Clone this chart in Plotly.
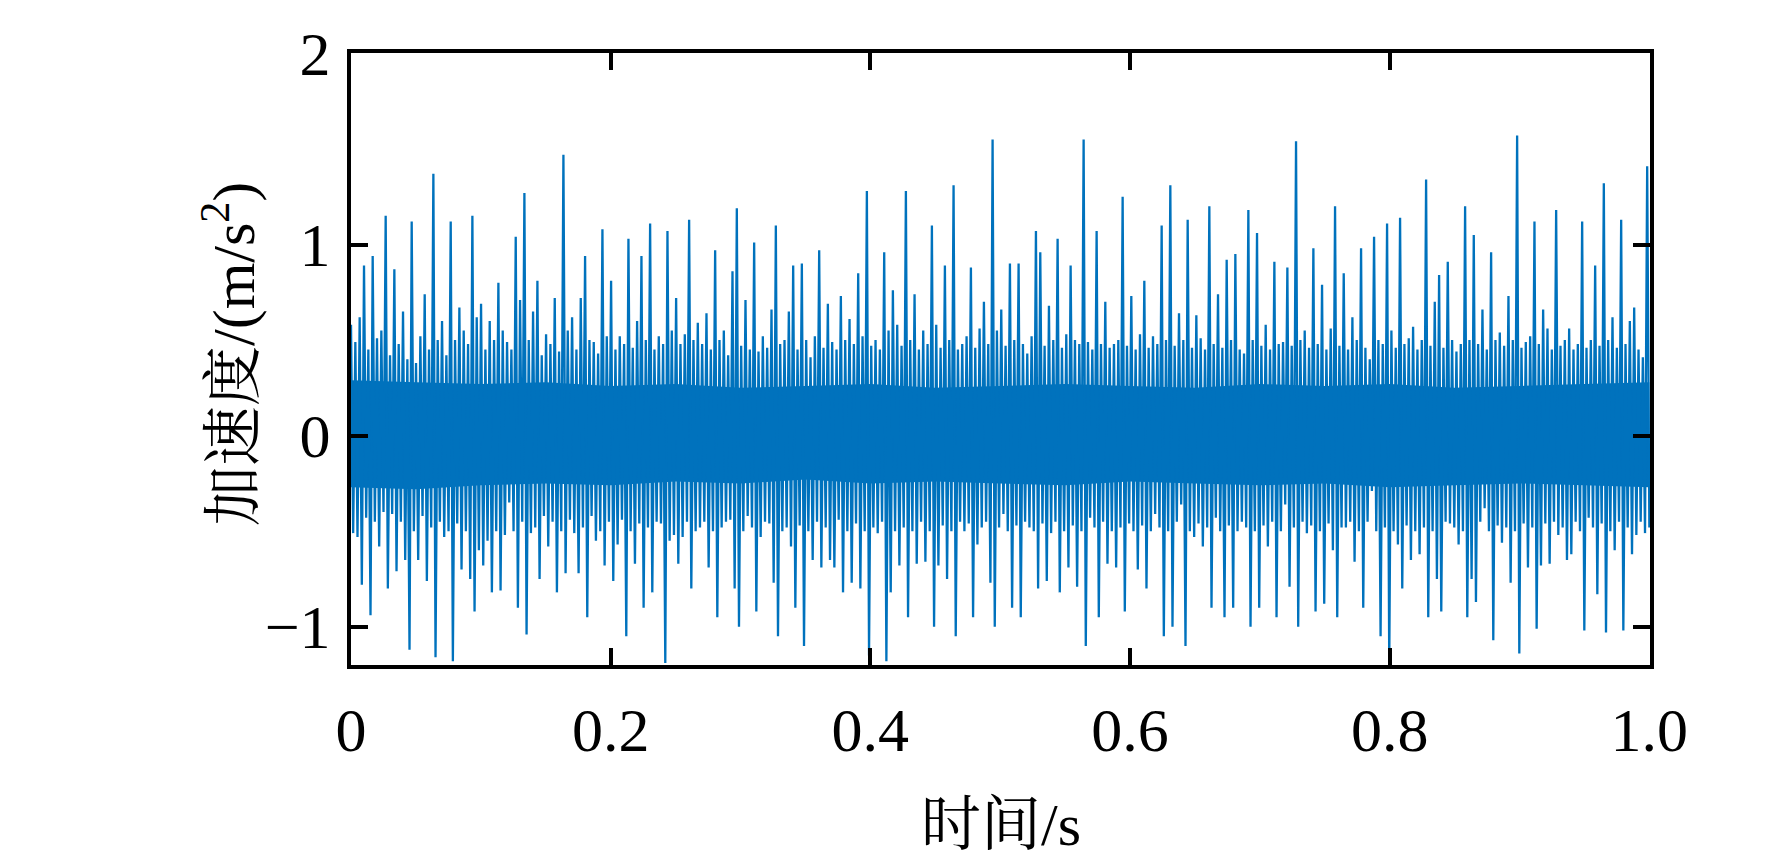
import numpy as np
import plotly.graph_objects as go

# time span of the record (s)
t_start, t_end = 0.0, 1.0

# local maxima / minima of the acceleration trace, read column by column (m/s^2)
upper_peaks = [
    0.58, 0.49, 0.62, 0.89, 0.45, 0.94, 0.51, 0.55, 1.15, 0.42, 0.87, 0.48, 0.65, 0.40, 1.12, 0.38, 0.52, 0.74, 0.45, 1.37,
    0.50, 0.60, 0.42, 1.12, 0.50, 0.67, 0.55, 0.48, 1.15, 0.62, 0.69, 0.45, 0.60, 0.50, 0.80, 0.55, 0.49, 0.45, 1.04, 0.71,
    1.27, 0.50, 0.65, 0.81, 0.42, 0.53, 0.48, 0.72, 0.44, 1.47, 0.55, 0.62, 0.45, 0.72, 0.94, 0.50, 0.49, 0.43, 1.08, 0.52,
    0.81, 0.45, 0.52, 0.48, 1.03, 0.46, 0.60, 0.94, 0.50, 1.11, 0.45, 0.52, 0.48, 1.07, 0.55, 0.72, 0.48, 0.53, 1.13, 0.50,
    0.59, 0.48, 0.64, 0.45, 0.97, 0.50, 0.55, 0.42, 0.86, 1.19, 0.47, 0.71, 0.45, 1.01, 0.44, 0.52, 0.46, 0.66, 1.10, 0.48,
    0.50, 0.65, 0.89, 0.45, 0.90, 0.50, 0.41, 0.52, 0.97, 0.46, 0.69, 0.49, 0.45, 0.73, 0.50, 0.61, 0.48, 0.85, 0.52, 1.28,
    0.47, 0.50, 0.45, 0.96, 0.55, 0.76, 0.58, 0.47, 1.28, 0.50, 0.74, 0.45, 0.55, 0.48, 1.10, 0.58, 0.46, 0.89, 0.50, 1.31,
    0.45, 0.48, 0.52, 0.88, 0.46, 0.56, 0.70, 0.48, 1.55, 0.55, 0.66, 0.47, 0.90, 0.50, 0.90, 0.48, 0.43, 0.52, 1.07, 0.96,
    0.47, 0.68, 0.50, 1.03, 0.46, 0.53, 0.89, 0.50, 0.48, 1.55, 0.49, 0.45, 1.07, 0.48, 0.70, 0.46, 0.48, 0.50, 1.25, 0.47,
    0.73, 0.45, 0.53, 0.81, 0.46, 0.52, 0.48, 1.10, 0.50, 1.31, 0.47, 0.64, 0.50, 1.13, 0.46, 0.63, 0.51, 0.45, 1.20, 0.48,
    0.74, 0.46, 0.92, 0.50, 0.95, 0.45, 0.43, 1.18, 0.50, 1.06, 0.47, 0.58, 0.45, 0.91, 0.48, 0.49, 0.88, 0.47, 1.54, 0.50,
    0.55, 0.46, 0.98, 0.48, 0.79, 0.45, 0.56, 1.20, 0.47, 0.85, 0.45, 0.62, 0.50, 0.98, 0.46, 0.40, 1.04, 0.50, 0.48, 1.11,
    0.55, 0.46, 1.14, 0.48, 0.51, 0.57, 0.45, 0.50, 1.34, 0.47, 0.70, 0.84, 0.46, 0.91, 0.50, 0.44, 0.48, 1.20, 0.50, 1.05,
    0.48, 0.66, 0.45, 0.96, 0.50, 0.54, 0.47, 0.73, 0.50, 1.57, 0.46, 0.49, 0.52, 1.12, 0.48, 0.66, 0.56, 0.45, 1.18, 0.47,
    0.50, 0.56, 0.45, 0.48, 1.12, 0.46, 0.50, 0.89, 0.47, 1.32, 0.50, 0.62, 0.46, 1.13, 0.48, 0.60, 0.67, 0.45, 0.41, 1.41,
]
lower_peaks = [
    -0.51, -0.53, -0.78, -0.43, -0.94, -0.45, -0.58, -0.40, -0.80, -0.41, -0.71, -0.45, -0.65, -1.12, -0.50, -0.65, -0.42, -0.76, -0.48, -1.16,
    -0.45, -0.53, -0.50, -1.18, -0.46, -0.70, -0.50, -0.75, -0.92, -0.60, -0.68, -0.55, -0.82, -0.50, -0.81, -0.52, -0.35, -0.50, -0.90, -0.45,
    -1.04, -0.51, -0.48, -0.75, -0.42, -0.58, -0.45, -0.82, -0.50, -0.72, -0.44, -0.51, -0.72, -0.48, -0.95, -0.42, -0.55, -0.50, -0.68, -0.45,
    -0.76, -0.57, -0.44, -1.05, -0.50, -0.67, -0.46, -0.90, -0.48, -0.82, -0.45, -0.46, -1.19, -0.55, -0.52, -0.67, -0.53, -0.45, -0.80, -0.50,
    -0.48, -0.45, -0.69, -0.50, -0.95, -0.48, -0.45, -0.44, -0.80, -1.00, -0.50, -0.42, -0.48, -0.92, -0.53, -0.45, -0.46, -0.77, -1.05, -0.50,
    -0.48, -0.58, -0.90, -0.47, -1.10, -0.50, -0.65, -0.45, -0.69, -0.48, -0.65, -0.69, -0.44, -0.82, -0.50, -0.77, -0.46, -0.80, -0.50, -1.15,
    -0.48, -0.51, -0.45, -1.18, -0.82, -0.50, -0.68, -0.48, -0.95, -0.50, -0.67, -0.45, -0.66, -0.50, -1.00, -0.68, -0.47, -0.75, -0.50, -1.05,
    -0.45, -0.50, -0.46, -0.95, -0.57, -0.48, -0.45, -0.77, -1.00, -0.48, -0.41, -0.50, -0.90, -0.47, -0.95, -0.45, -0.48, -0.50, -0.80, -0.46,
    -0.76, -0.51, -0.45, -0.82, -0.50, -0.69, -0.47, -0.79, -0.50, -1.10, -0.43, -0.48, -0.95, -0.45, -0.67, -0.50, -0.69, -0.48, -0.92, -0.46,
    -0.50, -0.70, -0.47, -0.80, -0.50, -0.41, -0.48, -1.05, -0.50, -1.00, -0.45, -0.36, -1.10, -0.50, -0.53, -0.46, -0.58, -0.48, -0.90, -0.43,
    -0.50, -0.95, -0.47, -0.90, -0.50, -0.45, -0.48, -1.00, -0.50, -0.90, -0.47, -0.58, -0.45, -0.95, -0.50, -0.36, -0.79, -0.48, -1.00, -0.45,
    -0.51, -0.47, -0.92, -0.50, -0.88, -0.46, -0.60, -0.95, -0.48, -0.48, -0.45, -0.66, -0.50, -0.90, -0.45, -0.29, -0.50, -1.05, -0.48, -1.20,
    -0.50, -0.57, -0.80, -0.47, -0.65, -0.50, -0.62, -0.48, -0.95, -0.50, -0.75, -0.92, -0.45, -0.46, -0.48, -0.57, -0.50, -0.95, -0.75, -0.87,
    -0.45, -0.38, -0.50, -1.07, -0.47, -0.56, -0.48, -0.77, -0.50, -1.14, -0.46, -0.69, -0.48, -1.01, -0.68, -0.46, -0.67, -0.45, -0.52, -0.48,
    -0.65, -0.62, -0.45, -0.50, -1.02, -0.43, -0.48, -0.83, -0.46, -1.03, -0.50, -0.60, -0.45, -1.02, -0.48, -0.62, -0.52, -0.45, -0.51, -0.48,
]

# edges of the solid dense band around zero, read every 0.05 s (m/s^2)
core_top = [0.29, 0.28, 0.27, 0.28, 0.26, 0.27, 0.25, 0.26, 0.27, 0.25, 0.26,
            0.27, 0.26, 0.25, 0.27, 0.26, 0.27, 0.25, 0.26, 0.27, 0.28]
core_bottom = [-0.27, -0.28, -0.26, -0.25, -0.26, -0.24, -0.25, -0.23, -0.25, -0.24, -0.25,
               -0.26, -0.24, -0.25, -0.26, -0.25, -0.27, -0.26, -0.25, -0.26, -0.27]

x_tickvals = [0, 0.2, 0.4, 0.6, 0.8, 1.0]
x_ticktext = ["0", "0.2", "0.4", "0.6", "0.8", "1.0"]
y_tickvals = [-1, 0, 1, 2]
y_ticktext = ["\u22121", "0", "1", "2"]

x_title = "时间/s"
y_title = "加速度/(m/s<sup>2</sup>)"

FONT = "Liberation Serif, Noto Serif CJK SC, Noto Sans CJK SC, serif"
BLUE = "#0072BD"

# sample grid: each column holds a maximum followed by a minimum
n = len(upper_peaks)
step = (t_end - t_start) / (n - 0.5)
t_up = t_start + np.arange(n) * step
t_dn = t_up + step / 2
t = np.column_stack([t_up, t_dn]).ravel()
acc = np.column_stack([upper_peaks, lower_peaks]).ravel()

t_core = np.linspace(t_start, t_end, len(core_top))

fig = go.Figure()
fig.add_trace(go.Scatter(
    x=np.concatenate([t_core, t_core[::-1]]),
    y=core_top + core_bottom[::-1],
    fill="toself", fillcolor=BLUE, mode="none",
    showlegend=False, hoverinfo="skip",
))
fig.add_trace(go.Scatter(
    x=t, y=acc,
    mode="lines",
    line=dict(color=BLUE, width=2.3),
    showlegend=False,
    hoverinfo="skip",
))

axis_style = dict(
    showline=True, linewidth=4, linecolor="black", mirror="allticks",
    ticks="inside", ticklen=17, tickwidth=4, tickcolor="black",
    showgrid=False, zeroline=False,
    tickfont=dict(family=FONT, size=62, color="black"),
)

fig.update_xaxes(range=[0, 1.0005], tickvals=x_tickvals, ticktext=x_ticktext,
                 ticklabelstandoff=8, **axis_style)
fig.update_yaxes(range=[-1.2, 2.002], tickvals=y_tickvals, ticktext=y_ticktext,
                 ticklabelstandoff=4, **axis_style)

fig.add_annotation(text=x_title, xref="paper", yref="paper", x=0.5, y=-0.262,
                   xanchor="center", yanchor="middle", showarrow=False,
                   font=dict(family=FONT, size=60, color="black"))
fig.add_annotation(text=y_title, xref="paper", yref="paper", x=-0.094, y=0.508,
                   xanchor="center", yanchor="middle", showarrow=False, textangle=-90,
                   font=dict(family=FONT, size=60, color="black"))

fig.update_layout(
    width=1772, height=860,
    margin=dict(l=343, r=130, t=33, b=203),
    plot_bgcolor="white", paper_bgcolor="white",
    font=dict(family=FONT, color="black"),
)

fig.write_html("out.html")
